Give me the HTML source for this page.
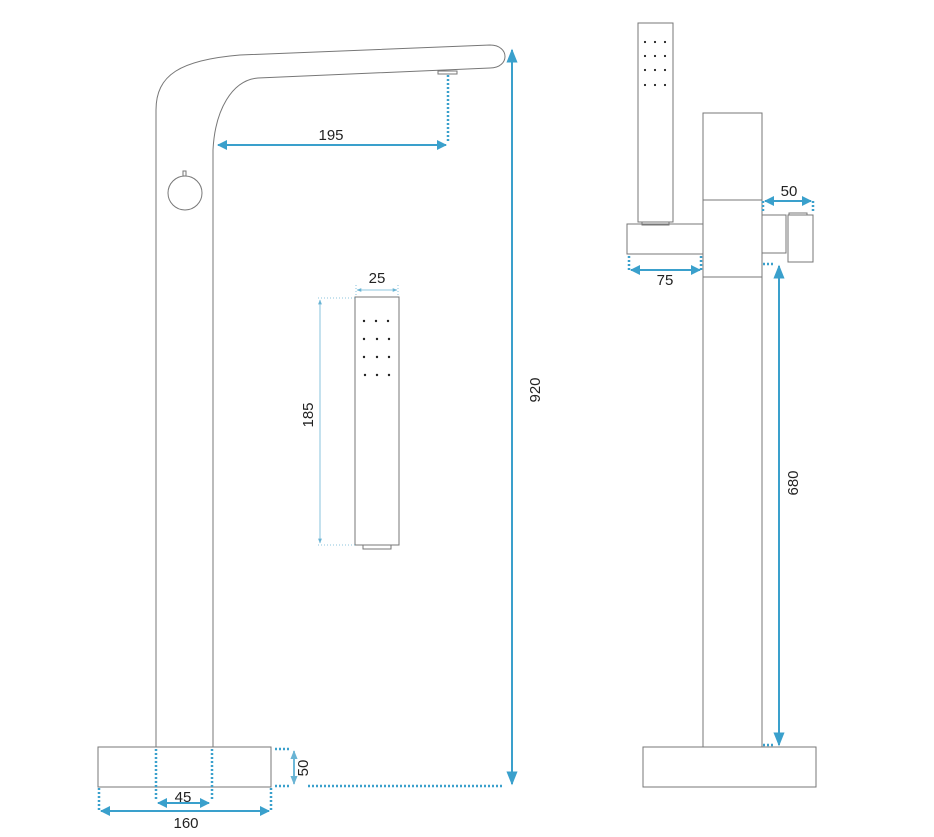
<!DOCTYPE html>
<html><head><style>html,body{margin:0;padding:0;background:#fff}svg{display:block}</style></head><body>
<svg width="934" height="837" viewBox="0 0 934 837" xmlns="http://www.w3.org/2000/svg" font-family="Liberation Sans, sans-serif">
<defs>
<marker id="a" viewBox="0 0 10 10" refX="9" refY="5" markerWidth="5" markerHeight="5" orient="auto-start-reverse"><path d="M0,0L10,5L0,10z" fill="#3aa0cc"/></marker>
<marker id="c" viewBox="0 0 10 10" refX="9" refY="5" markerWidth="7" markerHeight="7" orient="auto-start-reverse"><path d="M0,1L10,5L0,9z" fill="#3aa0cc"/></marker>
<marker id="b" viewBox="0 0 10 10" refX="9" refY="5" markerWidth="6" markerHeight="6" orient="auto-start-reverse"><path d="M0,1L10,5L0,9z" fill="#6ab4d4"/></marker>
</defs>
<g fill="none" stroke="#777" stroke-width="1">
<path d="M156,747 L156,110 C156,75 180,60 240,55 L490,45 C510,45 510,68 490,68 L258,78 C232,80 215,110 213,150 L213,747"/>
<circle cx="185" cy="193" r="17"/>
<rect x="183" y="171" width="3" height="5"/>
<rect x="438" y="71" width="19" height="3"/>
<rect x="98" y="747" width="173" height="40"/>
<rect x="355" y="297" width="44" height="248"/>
<rect x="363" y="545" width="28" height="4"/>
<rect x="638" y="23" width="35" height="199"/>
<rect x="642" y="222" width="27" height="3"/>
<rect x="703" y="113" width="59" height="634"/>
<line x1="703" y1="200" x2="762" y2="200"/>
<line x1="703" y1="277" x2="762" y2="277"/>
<rect x="627" y="224" width="76" height="30"/>
<rect x="762" y="215" width="24" height="38"/>
<rect x="788" y="215" width="25" height="47"/>
<rect x="789" y="213" width="18" height="2"/>
<rect x="643" y="747" width="173" height="40"/>
</g>
<g fill="#222">
<circle cx="364" cy="321" r="1.2"/><circle cx="376" cy="321" r="1.2"/><circle cx="388" cy="321" r="1.2"/>
<circle cx="364" cy="339" r="1.2"/><circle cx="377" cy="339" r="1.2"/><circle cx="389" cy="339" r="1.2"/>
<circle cx="364" cy="357" r="1.2"/><circle cx="377" cy="357" r="1.2"/><circle cx="389" cy="357" r="1.2"/>
<circle cx="365" cy="375" r="1.2"/><circle cx="377" cy="375" r="1.2"/><circle cx="389" cy="375" r="1.2"/>
<circle cx="645" cy="42" r="1.1"/><circle cx="655" cy="42" r="1.1"/><circle cx="665" cy="42" r="1.1"/>
<circle cx="645" cy="56" r="1.1"/><circle cx="655" cy="56" r="1.1"/><circle cx="665" cy="56" r="1.1"/>
<circle cx="645" cy="70" r="1.1"/><circle cx="655" cy="70" r="1.1"/><circle cx="665" cy="70" r="1.1"/>
<circle cx="645" cy="85" r="1.1"/><circle cx="655" cy="85" r="1.1"/><circle cx="665" cy="85" r="1.1"/>
</g>
<g stroke="#3aa0cc" stroke-width="2.5" fill="none" stroke-dasharray="2,2">
<line x1="448" y1="75" x2="448" y2="143"/>
<line x1="308" y1="786" x2="502" y2="786"/>
<line x1="275" y1="749" x2="291" y2="749"/><line x1="275" y1="786" x2="291" y2="786"/>
<line x1="156" y1="749" x2="156" y2="801"/><line x1="212" y1="749" x2="212" y2="801"/>
<line x1="99" y1="788" x2="99" y2="810"/><line x1="271" y1="788" x2="271" y2="810"/>
<line x1="629" y1="256" x2="629" y2="270"/><line x1="701" y1="256" x2="701" y2="270"/>
<line x1="763" y1="201" x2="763" y2="213"/><line x1="813" y1="201" x2="813" y2="213"/>
<line x1="763" y1="264" x2="774" y2="264"/><line x1="763" y1="745" x2="774" y2="745"/>
</g>
<g stroke="#3aa0cc" stroke-width="2" fill="none">
<line x1="218" y1="145" x2="446" y2="145" marker-start="url(#a)" marker-end="url(#a)"/>
<line x1="512" y1="50" x2="512" y2="784" marker-start="url(#c)" marker-end="url(#c)"/>
<line x1="294" y1="751" x2="294" y2="784" marker-start="url(#b)" marker-end="url(#b)" stroke-width="1.5"/>
<line x1="158" y1="803" x2="209" y2="803" marker-start="url(#a)" marker-end="url(#a)"/>
<line x1="101" y1="811" x2="269" y2="811" marker-start="url(#a)" marker-end="url(#a)"/>
<line x1="631" y1="270" x2="700" y2="270" marker-start="url(#a)" marker-end="url(#a)"/>
<line x1="765" y1="201" x2="811" y2="201" marker-start="url(#a)" marker-end="url(#a)"/>
<line x1="779" y1="266" x2="779" y2="745" marker-start="url(#c)" marker-end="url(#c)"/>
</g>
<g stroke="#6ab4d4" stroke-width="0.8" fill="none">
<line x1="357" y1="290" x2="397" y2="290" marker-start="url(#b)" marker-end="url(#b)"/>
<line x1="320" y1="300" x2="320" y2="543" marker-start="url(#b)" marker-end="url(#b)"/>
<g stroke-dasharray="1,2"><line x1="318" y1="298" x2="355" y2="298"/><line x1="318" y1="545" x2="355" y2="545"/>
<line x1="356" y1="285" x2="356" y2="297"/><line x1="398" y1="285" x2="398" y2="297"/></g>
</g>
<g fill="#222" font-size="15" text-anchor="middle">
<text x="331" y="140">195</text>
<text x="377" y="283">25</text>
<text x="183" y="802">45</text>
<text x="186" y="828">160</text>
<text x="665" y="285">75</text>
<text x="789" y="196">50</text>
<text transform="translate(540,390) rotate(-90)">920</text>
<text transform="translate(313,415) rotate(-90)">185</text>
<text transform="translate(308,768) rotate(-90)">50</text>
<text transform="translate(798,483) rotate(-90)">680</text>
</g>
</svg>
</body></html>
